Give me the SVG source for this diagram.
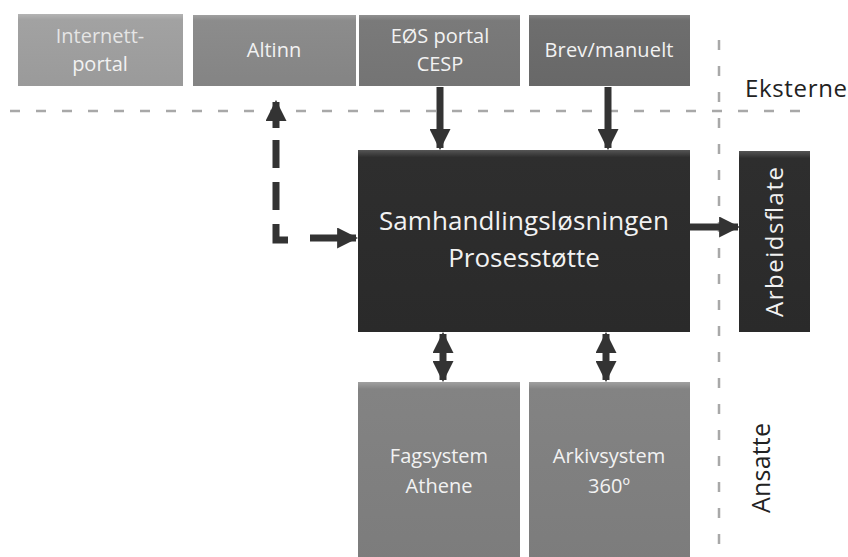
<svg xmlns="http://www.w3.org/2000/svg" width="848" height="557" viewBox="0 0 848 557">
<defs>
<linearGradient id="gLight" x1="0" y1="0" x2="0" y2="1"><stop offset="0" stop-color="#b4b4b4"/><stop offset="0.08" stop-color="#a2a2a2"/><stop offset="1" stop-color="#9a9a9a"/></linearGradient>
<linearGradient id="gMid" x1="0" y1="0" x2="0" y2="1"><stop offset="0" stop-color="#a0a0a0"/><stop offset="0.08" stop-color="#8c8c8c"/><stop offset="1" stop-color="#848484"/></linearGradient>
<linearGradient id="gMid2" x1="0" y1="0" x2="0" y2="1"><stop offset="0" stop-color="#909090"/><stop offset="0.08" stop-color="#7a7a7a"/><stop offset="1" stop-color="#747474"/></linearGradient>
<linearGradient id="gDarkish" x1="0" y1="0" x2="0" y2="1"><stop offset="0" stop-color="#858585"/><stop offset="0.08" stop-color="#6e6e6e"/><stop offset="1" stop-color="#686868"/></linearGradient>
<linearGradient id="gBottom" x1="0" y1="0" x2="0" y2="1"><stop offset="0" stop-color="#a0a0a0"/><stop offset="0.04" stop-color="#838383"/><stop offset="1" stop-color="#7c7c7c"/></linearGradient>
<linearGradient id="gDark" x1="0" y1="0" x2="0" y2="1"><stop offset="0" stop-color="#555"/><stop offset="0.04" stop-color="#2e2e2e"/><stop offset="1" stop-color="#2a2a2a"/></linearGradient>
<marker id="ah" viewBox="0 0 10 10" refX="9" refY="5" markerWidth="3" markerHeight="3" orient="auto-start-reverse" markerUnits="strokeWidth"><path d="M0,0 L10,5 L0,10 z" fill="#333"/></marker>
</defs>
<style>
.lbl{font-family:"Open Sans","Liberation Sans",sans-serif;fill:#f2f2f2;text-anchor:middle}
.side{font-family:"Open Sans","Liberation Sans",sans-serif;fill:#222;text-anchor:middle}
.arr{stroke:#333;stroke-width:7;fill:none}
.sep{stroke:#a8a8a8;stroke-width:2.5;fill:none;stroke-dasharray:10 16}
</style>
<rect width="848" height="557" fill="#fff"/>
<g id="separators">
<path class="sep" d="M10,111 H810"/>
<path class="sep" d="M719,40 V557"/>
</g>
<g id="internettportal"><rect x="18" y="14" width="165" height="72" fill="url(#gLight)"/><text class="lbl" x="100" y="43" font-size="20" fill-opacity="0.85">Internett-</text><text class="lbl" x="100" y="71" font-size="20">portal</text></g>
<g id="altinn"><rect x="193" y="15" width="163" height="71" fill="url(#gMid)"/><text class="lbl" x="274" y="57" font-size="20">Altinn</text></g>
<g id="eos"><rect x="359" y="15" width="161" height="71" fill="url(#gMid2)"/><text class="lbl" x="440" y="43" font-size="20">EØS portal</text><text class="lbl" x="440" y="71" font-size="20">CESP</text></g>
<g id="brev"><rect x="529" y="15" width="161" height="71" fill="url(#gDarkish)"/><text class="lbl" x="609" y="57" font-size="20" textLength="129">Brev/manuelt</text></g>
<g id="eksterne"><text class="side" x="796" y="97" font-size="24" textLength="102">Eksterne</text></g>
<g id="samhandling"><rect x="358" y="150" width="332" height="182" fill="url(#gDark)"/><text class="lbl" x="524" y="230" font-size="26" textLength="290">Samhandlingsløsningen</text><text class="lbl" x="524" y="267" font-size="26">Prosesstøtte</text></g>
<g id="arbeidsflate"><rect x="739" y="151" width="71" height="181" fill="url(#gDark)"/><text class="lbl" transform="translate(783,242) rotate(-90)" font-size="24" textLength="150">Arbeidsflate</text></g>
<g id="fagsystem"><rect x="358" y="382" width="162" height="180" fill="url(#gBottom)"/><text class="lbl" x="439" y="463" font-size="20">Fagsystem</text><text class="lbl" x="439" y="493" font-size="20">Athene</text></g>
<g id="arkivsystem"><rect x="529" y="382" width="161" height="180" fill="url(#gBottom)"/><text class="lbl" x="609" y="463" font-size="20">Arkivsystem</text><text class="lbl" x="609" y="493" font-size="20">360º</text></g>
<g id="ansatte"><text class="side" transform="translate(770,468) rotate(-90)" font-size="25" textLength="90">Ansatte</text></g>
<g id="connectors">
<path class="arr" d="M440,87 V148" marker-end="url(#ah)"/>
<path class="arr" d="M608,87 V148" marker-end="url(#ah)"/>
<path class="arr" d="M690,227 H738" marker-end="url(#ah)"/>
<path class="arr" d="M443,334 V380" marker-start="url(#ah)" marker-end="url(#ah)"/>
<path class="arr" d="M606,334 V380" marker-start="url(#ah)" marker-end="url(#ah)"/>
<path class="arr" d="M276,102 V128" marker-start="url(#ah)"/>
<path class="arr" d="M276,140 V240 H290" stroke-dasharray="28 14" stroke-width="8"/>
<path class="arr" d="M310,238 H356" marker-end="url(#ah)"/>
</g>
</svg>
